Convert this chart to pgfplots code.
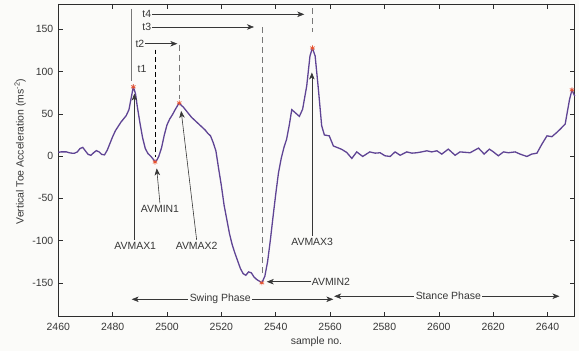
\documentclass[border=0pt]{standalone}
\usepackage{pgfplots}
\pgfplotsset{compat=1.18}
\usepackage{fontspec}
\setmainfont{Liberation Sans}
\usetikzlibrary{arrows.meta}
\definecolor{bgc}{RGB}{251,251,249}
\definecolor{curve}{RGB}{95,68,148}
\definecolor{starc}{RGB}{232,82,46}
\definecolor{txt}{RGB}{55,55,55}
\definecolor{axc}{RGB}{45,45,45}
\definecolor{dgray}{RGB}{120,120,120}
\begin{document}
\begin{tikzpicture}[font=\fontsize{10.5}{12.6}\selectfont,
  arr/.style={-{Stealth[length=7bp,width=5.5bp,inset=2bp]}, color=txt, line width=0.6bp},
  darr/.style={{Stealth[length=7bp,width=5.5bp,inset=2bp]}-{Stealth[length=7bp,width=5.5bp,inset=2bp]}, color=txt, line width=0.6bp}]
\fill[bgc] (-58.3bp,-34.3bp) rectangle (520.7bp,316.7bp);
\begin{axis}[
  scale only axis, width=516.4bp, height=312.7bp,
  xmin=2460, xmax=2650, ymin=-190, ymax=180,
  xtick={2460,2480,...,2640}, ytick={-150,-100,...,150},
  tick align=inside, major tick length=5bp,
  xtick pos=both, ytick pos=both,
  axis line style={color=axc, line width=0.8bp},
  tick style={color=axc, line width=0.6bp},
  /pgf/number format/assume math mode=true,
  /pgf/number format/1000 sep={},
  ticklabel style={color=txt, font=\fontsize{10.5}{12.6}\selectfont},
  xticklabel style={yshift=-2.5bp},
  yticklabel style={xshift=-1.5bp},
  xlabel={sample no.}, ylabel={Vertical Toe Acceleration (ms\textsuperscript{-2})},
  label style={color=txt},
  xlabel style={at={(axis description cs:0.5,0)}, anchor=center, yshift=-25bp},
  ylabel style={at={(axis description cs:-0.074,0.528)}, anchor=center},
  clip=false,
  axis background/.style={fill=bgc},
]
\addplot[color=curve, line width=1.3bp] coordinates {
(2460,4.5)(2461,5)(2462,5)(2463,5)(2464,4)(2465,3.5)(2466,3.5)(2467,5)(2468,9)(2469,10.3)(2470,6)(2471,2)(2472,1)(2473,4)(2474,6.5)(2475,5)(2476,2)(2477,1.5)(2478,7)(2479,15)(2480,23)(2481,30)(2482,35)(2483,40)(2484,44)(2485,48)(2486,55)(2487,72)(2487.6,82)(2488.4,74)(2489,60)(2490,40)(2491,22)(2492,9)(2493,3)(2494,0)(2495,-4)(2495.6,-7)(2496.4,-4)(2497,0)(2498,10)(2499,25)(2500,37)(2501,44)(2502,49)(2503,55)(2504,60.5)(2504.5,63)(2505.3,60)(2506,58)(2507,54)(2508,50)(2509,46)(2510,43)(2511,40)(2512,37)(2513,34)(2514,31)(2515,27)(2516,24)(2517,16)(2518,6)(2519,-15)(2520,-35)(2521,-58)(2522,-75)(2523,-92)(2524,-105)(2525,-115)(2526,-124)(2527,-133)(2528,-139)(2529,-141)(2530,-137)(2531,-138)(2532,-143)(2533,-146)(2534,-148)(2534.9,-150)(2536,-142)(2537,-125)(2538,-100)(2539,-72)(2540,-45)(2541,-20)(2542,-3)(2543,10)(2544,20)(2545,37)(2545.9,55)(2547.1,51.6)(2548.7,47)(2549.9,55.6)(2551.4,83)(2552.6,118.5)(2553.5,128)(2554.5,118.5)(2555.7,79)(2556.9,36)(2557.9,25)(2559.7,24)(2561.2,12)(2564.3,8)(2566.1,4.4)(2568,-2.7)(2569.8,5)(2572,-0.4)(2574.6,5)(2576.6,3.5)(2578.4,4)(2580.2,0.4)(2582.1,-0.4)(2583.9,5)(2585.8,1)(2588.2,5)(2590.1,3.5)(2591.9,4)(2593.7,5)(2595.6,6.3)(2597.4,5)(2599.3,6.3)(2601.1,2.4)(2603.5,8.3)(2606,1)(2607.8,5)(2611.5,4)(2614.6,9.5)(2616.7,2.4)(2618.6,8.3)(2620.1,5)(2621.9,0.4)(2623.8,5)(2625.6,4)(2628.1,5)(2629.9,2.4)(2632.4,-0.4)(2634.2,2.4)(2636.1,3.5)(2637.9,14)(2639.8,24)(2641.6,23)(2643.4,28)(2644.7,32)(2646.5,38)(2648.1,67)(2649,78.4)(2650,71)
};
\addplot[only marks, mark=asterisk, mark size=2.6bp, color=starc, line width=0.7bp] coordinates {
(2487.6,82)(2495.6,-7)(2504.5,63)(2534.9,-150)(2553.5,128)(2649,78.4)
};
% vertical reference lines
\draw[color=dgray, line width=0.7bp] (axis cs:2487,174.6) -- (axis cs:2487,89);
\draw[color=black, line width=0.7bp, dash pattern=on 4.5bp off 3bp] (axis cs:2495.6,126) -- (axis cs:2495.6,-1);
\draw[color=dgray, line width=0.7bp, dash pattern=on 6bp off 4bp] (axis cs:2504.5,132) -- (axis cs:2504.5,68);
\draw[color=dgray, line width=0.7bp, dash pattern=on 6bp off 4bp] (axis cs:2535,152.5) -- (axis cs:2535,-142);
\draw[color=dgray, line width=0.7bp, dash pattern=on 6bp off 4bp] (axis cs:2553.3,175) -- (axis cs:2553.3,147);
% timing arrows
\draw[arr] (axis cs:2494.4,167.8) -- (axis cs:2550.5,167.8);
\node[anchor=east, inner sep=0.5bp, text=txt] at (axis cs:2494.4,167.8) {t4};
\draw[arr] (axis cs:2494.4,152.8) -- (axis cs:2532,152.8);
\node[anchor=east, inner sep=0.5bp, text=txt] at (axis cs:2494.4,152.8) {t3};
\draw[arr] (axis cs:2491.9,133) -- (axis cs:2503.8,133);
\node[anchor=east, inner sep=0.5bp, text=txt] at (axis cs:2491.9,133) {t2};
\node[text=txt] at (axis cs:2490.8,103.6) {t1};
% peak labels
\draw[arr] (axis cs:2488,-99) -- (axis cs:2488,74);
\node[text=txt] at (axis cs:2488.3,-106) {AVMAX1};
\draw[arr] (axis cs:2497.4,-56) -- (axis cs:2496.2,-14.5);
\node[text=txt] at (axis cs:2497.4,-62.6) {AVMIN1};
\draw[arr] (axis cs:2510.9,-99) -- (axis cs:2505.2,53.5);
\node[text=txt] at (axis cs:2510.9,-106.7) {AVMAX2};
\draw[arr] (axis cs:2553.3,-94) -- (axis cs:2553.3,99);
\node[text=txt] at (axis cs:2553.4,-102) {AVMAX3};
\draw[arr] (axis cs:2553.1,-148.6) -- (axis cs:2536.7,-148.6);
\node[anchor=west, inner sep=0.3bp, text=txt] at (axis cs:2553.1,-148.6) {AVMIN2};
% phases
\draw[darr] (axis cs:2487.0,-169.4) -- (axis cs:2561.2,-169.4);
\node[fill=bgc, inner xsep=1.5bp, inner ysep=1bp, text=txt] at (axis cs:2519.6,-169.4) {Swing Phase};
\draw[darr] (axis cs:2561.5,-165.8) -- (axis cs:2644.4,-165.8);
\node[fill=bgc, inner xsep=1.5bp, inner ysep=1bp, text=txt] at (axis cs:2603.5,-165.8) {Stance Phase};
\end{axis}
\pgfresetboundingbox
\path (-58.3bp,-34.3bp) rectangle (520.7bp,316.7bp);
\end{tikzpicture}
\end{document}
